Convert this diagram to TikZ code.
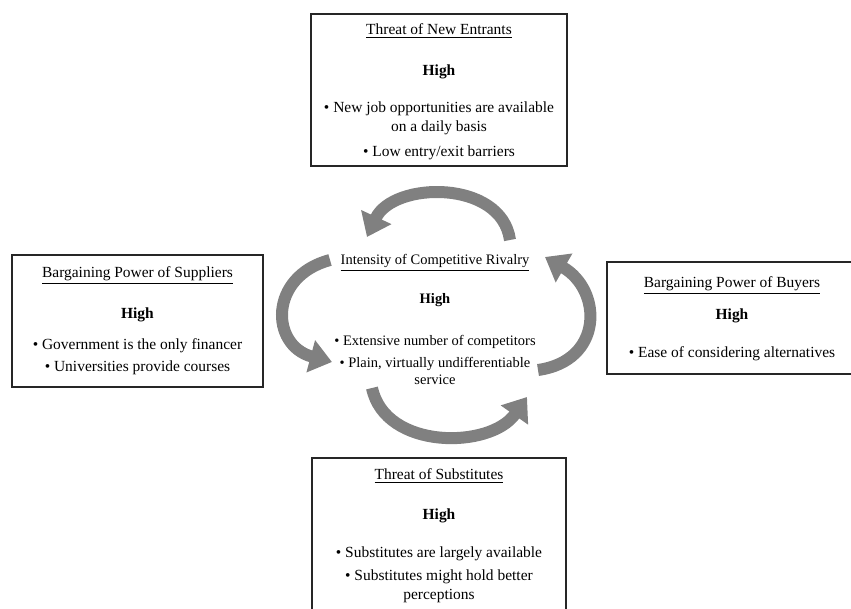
\documentclass[tikz,border=0pt]{standalone}
\usepackage{fontspec}
\setmainfont{Liberation Serif}
\usetikzlibrary{arrows.meta}
\pgfdeclarelayer{edgelayer}
\pgfdeclarelayer{nodelayer}
\pgfsetlayers{edgelayer,nodelayer,main}
\tikzstyle{none}=[inner sep=0pt]
\tikzstyle{forcebox}=[rectangle,draw=black!85,line width=2pt,fill=none,inner sep=0pt]
\tikzstyle{boxtext}=[inner sep=0pt,anchor=base,align=center,font=\fontsize{11}{13.5}\selectfont]
\tikzstyle{rivalrytext}=[inner sep=0pt,anchor=base,align=center,font=\fontsize{10.3}{12}\selectfont]
\tikzstyle{cyclearrow}=[-{Triangle[width=0.8cm,length=0.55cm]},draw=black!50,line width=0.3cm]

\begin{document}
\begin{tikzpicture}
	\useasboundingbox (-10.625, -7.6) rectangle (10.65, 7.625);
	\begin{pgfonlayer}{nodelayer}
		\node [style=forcebox, minimum width=6.4cm, minimum height=3.8cm] (0) at (0.35, 5.375) {};
		\node [style=boxtext] (1) at (0.35, 6.755) {\underline{Threat of New Entrants}};
		\node [style=boxtext] (2) at (0.35, 5.73) {\textbf{High}};
		\node [style=boxtext] (3) at (0.35, 4.33) {\textbullet\ New job opportunities are available\\on a daily basis};
		\node [style=boxtext] (4) at (0.35, 3.705) {\textbullet\ Low entry/exit barriers};
		\node [style=forcebox, minimum width=6.275cm, minimum height=3.3cm] (5) at (-7.1875, -0.4) {};
		\node [style=boxtext] (6) at (-7.1875, 0.68) {\underline{Bargaining Power of Suppliers}};
		\node [style=boxtext] (7) at (-7.1875, -0.345) {\textbf{High}};
		\node [style=boxtext] (8) at (-7.1875, -1.12) {\textbullet\ Government is the only financer};
		\node [style=boxtext] (9) at (-7.1875, -1.67) {\textbullet\ Universities provide courses};
		\node [style=forcebox, minimum width=6.35cm, minimum height=2.8cm] (10) at (7.725, -0.325) {};
		\node [style=boxtext] (11) at (7.675, 0.43) {\underline{Bargaining Power of Buyers}};
		\node [style=boxtext] (12) at (7.675, -0.37) {\textbf{High}};
		\node [style=boxtext] (13) at (7.675, -1.32) {\textbullet\ Ease of considering alternatives};
		\node [style=forcebox, minimum width=6.35cm, minimum height=4.075cm] (14) at (0.35, -5.8625) {};
		\node [style=boxtext] (15) at (0.35, -4.37) {\underline{Threat of Substitutes}};
		\node [style=boxtext] (16) at (0.35, -5.37) {\textbf{High}};
		\node [style=boxtext] (17) at (0.35, -6.32) {\textbullet\ Substitutes are largely available};
		\node [style=boxtext] (18) at (0.35, -7.37) {\textbullet\ Substitutes might hold better\\perceptions};
		\node [style=rivalrytext] (19) at (0.25, 1.005) {\underline{Intensity of Competitive Rivalry}};
		\node [style=rivalrytext] (20) at (0.25, 0.03) {\textbf{High}};
		\node [style=rivalrytext] (21) at (0.25, -1.02) {\textbullet\ Extensive number of competitors};
		\node [style=rivalrytext] (22) at (0.25, -1.995) {\textbullet\ Plain, virtually undifferentiable\\service};
		\node [style=none] (23) at (2.125, 1.625) {};
		\node [style=none] (24) at (-1.45, 1.7) {};
		\node [style=none] (25) at (-2.375, 1.125) {};
		\node [style=none] (26) at (-2.325, -1.425) {};
		\node [style=none] (27) at (-1.325, -2.075) {};
		\node [style=none] (28) at (2.55, -2.3) {};
		\node [style=none] (29) at (2.825, -1.625) {};
		\node [style=none] (30) at (3.0, 1.2) {};
	\end{pgfonlayer}
	\begin{pgfonlayer}{edgelayer}
		\draw [style=cyclearrow, out=98, in=65, looseness=1.1] (23.center) to (24.center);
		\draw [style=cyclearrow, out=195, in=165, looseness=1.6] (25.center) to (26.center);
		\draw [style=cyclearrow, out=282, in=235, looseness=1.05] (27.center) to (28.center);
		\draw [style=cyclearrow, out=8, in=330, looseness=1.5] (29.center) to (30.center);
	\end{pgfonlayer}
\end{tikzpicture}
\end{document}
